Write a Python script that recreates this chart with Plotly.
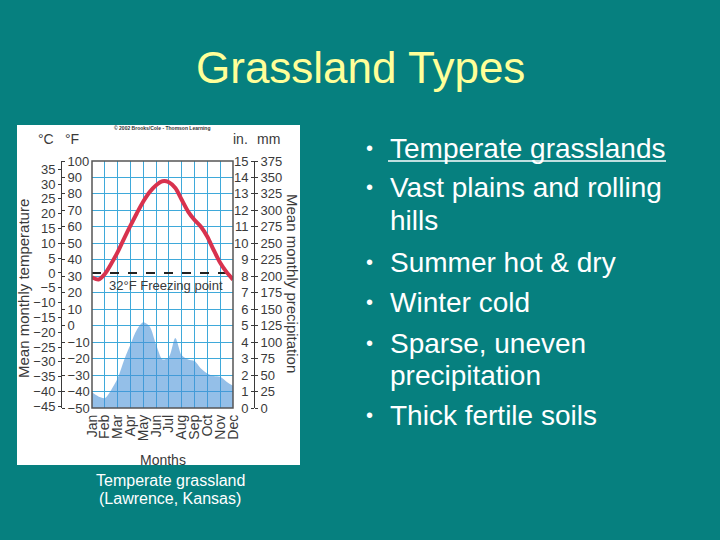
import plotly.graph_objects as go

W, H = 720, 540
def px(x): return x / W
def py(y): return 1 - y / H

# ---------------- data ----------------
months = ["Jan", "Feb", "Mar", "Apr", "May", "Jun", "Jul", "Aug", "Sep", "Oct", "Nov", "Dec"]
month_idx = [0, 1, 2, 3, 4, 5, 6, 7, 8, 9, 10, 11]
# half-month sample positions (month index)
sample_x = [0, 0.5, 1, 1.5, 2, 2.5, 3, 3.5, 4, 4.5, 5, 5.5, 6, 6.5, 7, 7.5,
            8, 8.5, 9, 9.5, 10, 10.5, 11]
# mean monthly temperature (°F)
temp_f = [29.4, 28.0, 31.4, 37.6, 44.7, 52.9, 60.7, 68.3, 75.4, 81.2, 85.3, 87.7,
          87.1, 83.6, 76.5, 69.3, 64.2, 60.1, 54.0, 45.8, 38.2, 32.5, 28.0]
# mean monthly precipitation (inches) read from the area
precip_in = [0.95, 0.70, 0.60, 1.10, 1.80, 2.90, 3.85, 4.75, 5.20, 4.95, 3.85, 2.95,
             3.10, 4.25, 3.20, 2.95, 2.85, 2.40, 2.10, 1.95, 1.90, 1.60, 1.35]
freeze_x = [0, 11]
freeze_f = [32, 32]

f_ticks = [-50, -40, -30, -20, -10, 0, 10, 20, 30, 40, 50, 60, 70, 80, 90, 100]
c_ticks = [-45, -40, -35, -30, -25, -20, -15, -10, -5, 0, 5, 10, 15, 20, 25, 30, 35]
in_ticks = [0, 1, 2, 3, 4, 5, 6, 7, 8, 9, 10, 11, 12, 13, 14, 15]
mm_ticks = [0, 25, 50, 75, 100, 125, 150, 175, 200, 225, 250, 275, 300, 325, 350, 375]

title = "Grassland Types"
bullets = [("Temperate grasslands", True, 148), ("Vast plains and rolling", True, 187),
           ("hills", False, 220), ("Summer hot & dry", True, 262), ("Winter cold", True, 302),
           ("Sparse, uneven", True, 343), ("precipitation", False, 375),
           ("Thick fertile soils", True, 415)]
caption = ["Temperate grassland", "(Lawrence, Kansas)"]

# ---------------- style ----------------
TEAL = "#06807F"
GRID = "#3FA9DA"
ARIAL = "Liberation Sans, Arial, sans-serif"
LBL = "#3a3a3a"

def c_of_f(f): return (f - 32) * 5 / 9

temp_c = [c_of_f(v) for v in temp_f]
precip_mm = [v * 25 for v in precip_in]

fig = go.Figure()

fig.add_trace(go.Scatter(x=sample_x, y=precip_in, yaxis="y3", mode="lines",
                         line=dict(width=0, shape="spline", smoothing=0.8, color="rgba(70,145,215,0.6)"),
                         fill="tozeroy", fillcolor="rgba(70,145,215,0.58)", hoverinfo="skip"))
# invisible companions so the °C and mm axes are drawn
fig.add_trace(go.Scatter(x=sample_x, y=temp_c, yaxis="y2", mode="lines", opacity=0,
                         line=dict(width=0), hoverinfo="skip"))
fig.add_trace(go.Scatter(x=sample_x, y=precip_mm, yaxis="y4", mode="lines", opacity=0,
                         line=dict(width=0), hoverinfo="skip"))
fig.add_trace(go.Scatter(x=freeze_x, y=freeze_f, yaxis="y", mode="lines",
                         line=dict(color="#222", width=2, dash="dash"), hoverinfo="skip"))
fig.add_trace(go.Scatter(x=sample_x, y=temp_f, yaxis="y", mode="lines",
                         line=dict(color="#D8324E", width=4, shape="spline", smoothing=0.8),
                         hoverinfo="skip"))

ydom = [py(408), py(161)]
tickfont = dict(family=ARIAL, size=13, color=LBL)

fig.update_layout(
    width=W, height=H, margin=dict(l=0, r=0, t=0, b=0, autoexpand=False),
    paper_bgcolor=TEAL, plot_bgcolor="white", showlegend=False,
    xaxis=dict(domain=[px(92), px(233)], range=[0, 11], tickmode="array",
               tickvals=month_idx, ticktext=months, tickangle=-90,
               tickfont=dict(family=ARIAL, size=14, color=LBL), automargin=False,
               showgrid=True, gridcolor=GRID, gridwidth=1.3, zeroline=False,
               showline=False, ticks="", ticklabelstandoff=3),
    yaxis=dict(domain=ydom, range=[-50, 100], anchor="free", position=px(61), side="right",
               tickmode="array", tickvals=f_ticks, tickfont=tickfont, automargin=False,
               showgrid=True, gridcolor=GRID, gridwidth=1.3, zeroline=False,
               showline=True, linecolor=LBL, linewidth=1, ticks="outside", ticklen=3,
               tickcolor=LBL),
    yaxis2=dict(overlaying="y", range=[c_of_f(-50), c_of_f(100)], anchor="free",
                position=px(61), side="left", tickmode="array", tickvals=c_ticks,
                tickfont=tickfont, showgrid=False, zeroline=False, showline=False,
                automargin=False, ticks="outside", ticklen=3, tickcolor=LBL),
    yaxis3=dict(overlaying="y", range=[0, 15], anchor="free", position=px(254), side="left",
                tickmode="array", tickvals=in_ticks, tickfont=tickfont, showgrid=False,
                zeroline=False, showline=True, linecolor=LBL, linewidth=1, automargin=False,
                ticks="outside", ticklen=3, tickcolor=LBL),
    yaxis4=dict(overlaying="y", range=[0, 375], anchor="free", position=px(254), side="right",
                tickmode="array", tickvals=mm_ticks, tickfont=tickfont, showgrid=False,
                zeroline=False, showline=False, ticks="outside", ticklen=3, tickcolor=LBL,
                automargin=False),
)

shapes = [
    dict(type="rect", xref="paper", yref="paper", x0=px(17), x1=px(300), y0=py(465), y1=py(125),
         fillcolor="white", line=dict(width=0), layer="below"),
    dict(type="rect", xref="x domain", yref="y domain", x0=0, x1=1, y0=0, y1=1,
         line=dict(color="#555", width=1.5), layer="above"),
    dict(type="line", xref="paper", yref="paper", x0=px(388), x1=px(666), y0=py(161), y1=py(161),
         line=dict(color="white", width=1.5)),
]
fig.update_layout(shapes=shapes)

def note(text, x, y, font, xanchor="center", textangle=0):
    return dict(text=text, x=px(x), y=py(y), xref="paper", yref="paper", showarrow=False,
                xanchor=xanchor, yanchor="middle", textangle=textangle, font=font)

ann = [note(title, 360, 68, dict(family=ARIAL, size=44, color="#FFFF99"))]
for txt, has_bullet, yc in bullets:
    if has_bullet:
        ann.append(note("•", 364, yc, dict(family=ARIAL, size=20, color="white"), xanchor="left"))
    ann.append(note(txt, 388, yc, dict(family=ARIAL, size=28, color="white"), xanchor="left"))
for i, t in enumerate(caption):
    ann.append(note(t, 170, 480 + 18 * i, dict(family=ARIAL, size=16, color="white")))

small = dict(family=ARIAL, size=14, color=LBL)
ann += [
    note("°C", 46, 139, small),
    note("°F", 72, 139, small),
    note("in.", 241, 139, small),
    note("mm", 268, 139, small),
    note("<b>© 2002 Brooks/Cole - Thomson Learning</b>", 162, 128,
         dict(family=ARIAL, size=5, color="#333")),
    note("Mean monthly temperature", 23, 289, dict(family=ARIAL, size=15, color=LBL), textangle=-90),
    note("Mean monthly precipitation", 293, 283, dict(family=ARIAL, size=15, color=LBL), textangle=90),
    note("Months", 163, 460, small),
    dict(text="32°F Freezing point", x=1.15, y=24.5, xref="x", yref="y", showarrow=False,
         xanchor="left", yanchor="middle", font=dict(family=ARIAL, size=13, color=LBL)),
]
fig.update_layout(annotations=ann)

fig.write_html("out.html")
